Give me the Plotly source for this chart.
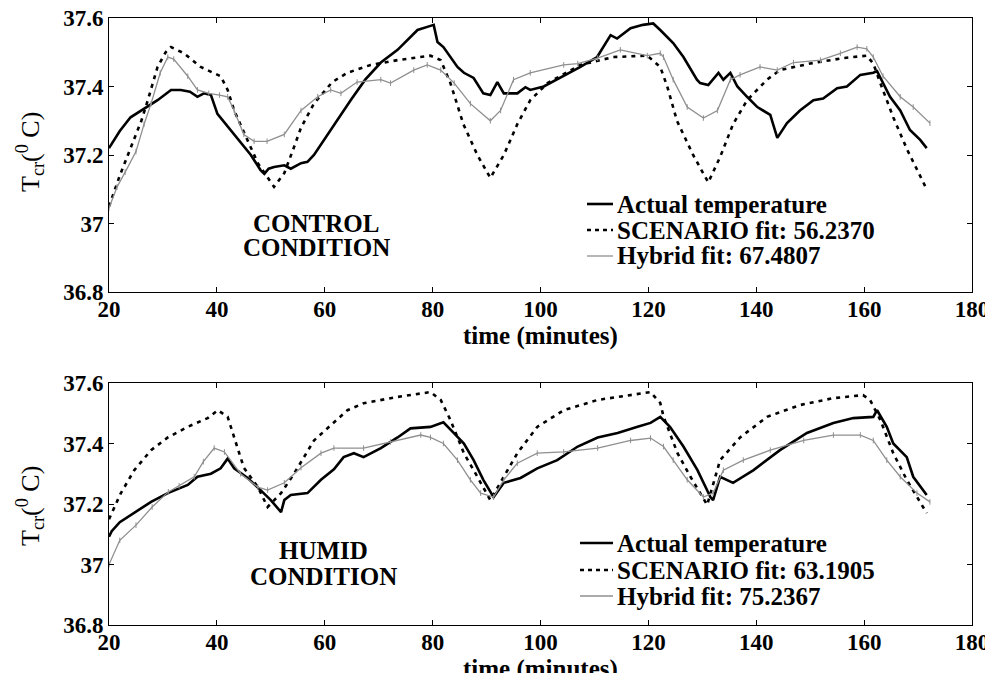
import plotly.graph_objects as go

# ---- CONTROL condition (top panel) ----
ctrl_actual_t = [20, 22, 24, 26, 27.5, 29, 31.5, 33.3, 35, 36.4, 37.6, 38.9, 40.1, 43.2, 46.3, 48.1,
                 48.8, 49.6, 50.6, 52.5, 53.7, 55.6, 56.8, 58, 60.5, 63, 64.8, 67.5, 70.4, 73.5, 77.2,
                 79.6, 80.2, 80.9, 82, 84.6, 85.8, 87.6, 89.4, 90.7, 92, 93.2, 95.7, 97.2, 98.1, 100.6,
                 104.3, 107.4, 110.5, 113, 114.2, 116.7, 119, 120.9, 122.2, 124.6, 126.5, 129, 129.6,
                 131.1, 133, 133.9, 135.2, 136.5, 138.3, 140.2, 142.6, 143.9, 145.7, 148.1, 150.6,
                 152.4, 155, 156.8, 159.3, 161.7, 162.4, 164.8, 166.7, 168.5, 170.4, 171.6]
ctrl_actual_v = [37.22, 37.27, 37.31, 37.33, 37.345, 37.36, 37.39, 37.39, 37.385, 37.37, 37.38, 37.375,
                 37.32, 37.26, 37.20, 37.156, 37.145, 37.16, 37.165, 37.17, 37.16, 37.176, 37.18, 37.20,
                 37.26, 37.32, 37.36, 37.42, 37.47, 37.507, 37.565, 37.577, 37.58, 37.53, 37.515,
                 37.457, 37.44, 37.425, 37.38, 37.375, 37.413, 37.38, 37.38, 37.398, 37.39, 37.40,
                 37.43, 37.457, 37.486, 37.55, 37.54, 37.57, 37.58, 37.584, 37.565, 37.527, 37.486,
                 37.42, 37.41, 37.404, 37.44, 37.42, 37.44, 37.40, 37.37, 37.34, 37.317, 37.25, 37.293,
                 37.33, 37.36, 37.365, 37.395, 37.40, 37.434, 37.44, 37.445, 37.37, 37.33, 37.273,
                 37.244, 37.22]

ctrl_scen_t = [20, 22, 24, 26, 27.2, 29, 30.5, 31.5, 33.9, 37, 40.7, 42, 43.2, 45.7, 47.6, 50.6, 52.5,
               54.3, 55.6, 58, 61.4, 64.2, 68.5, 73.5, 79.6, 81.5, 83.3, 85.7, 88.3, 90.7, 93.2, 95.7,
               98.1, 101.3, 107.4, 113.5, 119.8, 122.2, 123.5, 125.3, 128.3, 131.1, 133.3, 135.7,
               138.3, 142, 144.4, 150, 156.1, 160.5, 161.7, 163, 165.4, 168, 171.6]
ctrl_scen_v = [37.05, 37.14, 37.22, 37.30, 37.36, 37.457, 37.50, 37.515, 37.497, 37.457, 37.43, 37.39,
               37.33, 37.244, 37.176, 37.107, 37.147, 37.223, 37.28, 37.35, 37.413, 37.44, 37.463,
               37.477, 37.49, 37.477, 37.41, 37.29, 37.20, 37.133, 37.20, 37.29, 37.36, 37.41, 37.463,
               37.486, 37.49, 37.457, 37.40, 37.30, 37.20, 37.12, 37.194, 37.29, 37.36, 37.42, 37.448,
               37.467, 37.483, 37.49, 37.467, 37.41, 37.31, 37.215, 37.10]

ctrl_hyb_t = [20, 21.5, 23, 25, 26.5, 27.8, 29.5, 30.9, 32, 34.6, 36.4, 38.5, 40.5, 42, 43.2, 45, 46.9,
              49.3, 52.5, 55.6, 58.7, 61.1, 63, 66, 70.4, 72.2, 76.5, 79, 81.5, 84, 87, 90.7, 92.6, 95,
              98.1, 104.3, 106.9, 110.6, 114.8, 119.8, 122.2, 122.8, 124.6, 127.2, 130.2, 132.8, 135.2,
              137, 140.7, 143.9, 146.9, 151.9, 155.6, 158.7, 160.5, 161.7, 163.5, 166.7, 169.1, 172.2]
ctrl_hyb_v = [37.045, 37.107, 37.15, 37.21, 37.29, 37.35, 37.44, 37.486, 37.48, 37.43, 37.39, 37.38,
              37.375, 37.37, 37.33, 37.26, 37.24, 37.24, 37.26, 37.33, 37.37, 37.39, 37.38, 37.413,
              37.42, 37.41, 37.448, 37.463, 37.448, 37.41, 37.35, 37.30, 37.33, 37.42, 37.44, 37.463,
              37.467, 37.483, 37.507, 37.49, 37.497, 37.486, 37.42, 37.34, 37.308, 37.33, 37.42,
              37.434, 37.457, 37.448, 37.47, 37.477, 37.497, 37.515, 37.51, 37.486, 37.43, 37.37,
              37.34, 37.293]

# ---- HUMID condition (bottom panel) ----
hum_actual_t = [20, 20.5, 22, 24.7, 27.8, 30.9, 34.6, 36.4, 38.9, 40.7, 42, 43.2, 45.7, 48.1, 50, 51.9,
                52.5, 53.7, 56.8, 59.3, 61.7, 63.5, 65.4, 67.2, 70.4, 73.5, 75.9, 79.6, 82, 83.9, 85.8,
                87.6, 89.4, 91.3, 93.2, 96.3, 99.4, 103.1, 106.9, 110.6, 114.3, 118, 120.4, 122.2, 124,
                126.5, 129.1, 131.5, 132, 133.3, 135.7, 139.5, 144.4, 149.4, 154.3, 158, 161.7, 162.4,
                164.2, 165.4, 167.9, 169.1, 171.6]
hum_actual_v = [37.092, 37.11, 37.14, 37.17, 37.207, 37.236, 37.263, 37.29, 37.30, 37.318, 37.35,
                37.318, 37.286, 37.246, 37.213, 37.173, 37.213, 37.23, 37.236, 37.28, 37.315, 37.355,
                37.368, 37.355, 37.385, 37.42, 37.45, 37.455, 37.47, 37.435, 37.40, 37.345, 37.28,
                37.223, 37.27, 37.286, 37.318, 37.345, 37.39, 37.42, 37.435, 37.455, 37.468, 37.488,
                37.455, 37.39, 37.312, 37.223, 37.213, 37.29, 37.27, 37.312, 37.378, 37.435, 37.468,
                37.484, 37.488, 37.51, 37.455, 37.40, 37.355, 37.29, 37.23]

hum_scen_t = [20, 22.2, 24.7, 27.8, 30.9, 34.6, 38.3, 40.2, 42, 43.2, 45, 47.6, 49.4, 51.9, 54.3, 58,
              61.4, 64.2, 67.2, 73.5, 79.6, 81.5, 83.3, 85.8, 88.3, 90.7, 93.2, 95.7, 99.4, 104.3,
              110.6, 116.7, 120.4, 122.2, 122.8, 125.4, 127.8, 130.9, 133.3, 137, 142, 148.1, 154.3,
              159.8, 161.1, 163, 165.4, 167.9, 171.6]
hum_scen_v = [37.15, 37.236, 37.312, 37.378, 37.42, 37.455, 37.484, 37.51, 37.488, 37.42, 37.32,
              37.256, 37.19, 37.236, 37.30, 37.41, 37.465, 37.51, 37.533, 37.554, 37.57, 37.544,
              37.478, 37.368, 37.29, 37.213, 37.29, 37.368, 37.455, 37.51, 37.544, 37.56, 37.57,
              37.534, 37.49, 37.368, 37.29, 37.197, 37.345, 37.42, 37.488, 37.527, 37.55, 37.56,
              37.544, 37.478, 37.368, 37.28, 37.17]

hum_hyb_t = [20, 22, 25, 28, 31, 33, 35.8, 37.5, 39.5, 41.4, 44.4, 47.6, 49.4, 52.5, 55.6, 59.3, 61.7,
             67.2, 72.2, 77.8, 79.6, 82, 84.6, 87, 88.9, 91.3, 93.2, 95.7, 99.4, 104.3, 110.6, 116.7,
             120.4, 122.8, 124.6, 127.2, 130.2, 132, 133.9, 137.6, 142.6, 148.8, 154.3, 159.3, 161.7,
             164.2, 166.7, 169.8, 172.2]
hum_hyb_v = [37.0, 37.08, 37.13, 37.19, 37.24, 37.26, 37.29, 37.34, 37.385, 37.372, 37.30, 37.256,
             37.246, 37.27, 37.32, 37.368, 37.385, 37.385, 37.405, 37.428, 37.42, 37.40, 37.345,
             37.28, 37.236, 37.223, 37.28, 37.335, 37.368, 37.372, 37.385, 37.41, 37.418, 37.39,
             37.345, 37.28, 37.223, 37.236, 37.312, 37.345, 37.378, 37.41, 37.428, 37.428, 37.41,
             37.345, 37.29, 37.236, 37.207]

ctrl_labels = ["Actual temperature", "SCENARIO fit: 56.2370", "Hybrid fit: 67.4807"]
hum_labels = ["Actual temperature", "SCENARIO fit: 63.1905", "Hybrid fit: 75.2367"]

x_ticks = [20, 40, 60, 80, 100, 120, 140, 160, 180]
y_ticks = [36.8, 37.0, 37.2, 37.4, 37.6]
y_ticktext = ["36.8", "37", "37.2", "37.4", "37.6"]

SERIF = "Liberation Serif, Times New Roman, DejaVu Serif, serif"
GRAY = "#8f8f8f"

# target plot area in window pixels: x 109..972, y 18..625
L, R, T, B = 109, 972, 18, 625
PAGE_PAD = 8  # default body margin of the html page
W, H = 993 - 2 * PAGE_PAD, 681 - 2 * PAGE_PAD


def px_x(p):
    return (p - L) / (R - L)


def px_y(p):
    return (B - p) / (B - T)


fig = go.Figure()


def add_panel(xa, ya, actual, scen, hyb):
    fig.add_trace(go.Scatter(x=actual[0], y=actual[1], mode="lines", xaxis=xa, yaxis=ya,
                             line=dict(color="black", width=2.6), showlegend=False))
    fig.add_trace(go.Scatter(x=scen[0], y=scen[1], mode="lines", xaxis=xa, yaxis=ya,
                             line=dict(color="black", width=2.6, dash="4px,5px"), showlegend=False))
    fig.add_trace(go.Scatter(x=hyb[0], y=hyb[1], mode="lines+markers", xaxis=xa, yaxis=ya,
                             line=dict(color=GRAY, width=1.3),
                             marker=dict(symbol="line-ns", size=4, line=dict(color=GRAY, width=1)),
                             showlegend=False))


add_panel("x", "y", (ctrl_actual_t, ctrl_actual_v), (ctrl_scen_t, ctrl_scen_v), (ctrl_hyb_t, ctrl_hyb_v))
add_panel("x2", "y2", (hum_actual_t, hum_actual_v), (hum_scen_t, hum_scen_v), (hum_hyb_t, hum_hyb_v))

tickfont = dict(family=SERIF, size=23, color="black", weight="bold")
xcommon = dict(range=[20, 180], tickvals=x_ticks, showline=True, mirror="ticks", linecolor="black",
               linewidth=1, ticks="inside", ticklen=5, tickcolor="black", showgrid=False,
               zeroline=False, tickfont=tickfont, ticklabelstandoff=-4, automargin=False,
               ticklabeloverflow="allow")
ycommon = dict(range=[36.8, 37.6], tickvals=y_ticks, ticktext=y_ticktext, showline=True,
               mirror="ticks", linecolor="black", linewidth=1, ticks="inside", ticklen=5,
               tickcolor="black", showgrid=False, zeroline=False, tickfont=tickfont,
               automargin=False, ticklabeloverflow="allow")

top_dom = [px_y(292), 1]
bot_dom = [0, px_y(383)]

fig.update_layout(
    width=W, height=H,
    margin=dict(l=L - PAGE_PAD, r=W - (R - PAGE_PAD), t=T - PAGE_PAD, b=H - (B - PAGE_PAD)),
    paper_bgcolor="white", plot_bgcolor="white",
    xaxis=dict(xcommon, anchor="y", domain=[0, 1]),
    yaxis=dict(ycommon, anchor="x", domain=top_dom),
    xaxis2=dict(xcommon, anchor="y2", domain=[0, 1]),
    yaxis2=dict(ycommon, anchor="x2", domain=bot_dom),
    showlegend=False,
)

ann = []
shapes = []
txt_font = dict(family=SERIF, size=25, color="black", weight="bold")

# axis titles
for yp in (336, 669):
    ann.append(dict(text="time (minutes)", x=0.5, y=px_y(yp), xref="paper", yref="paper",
                    showarrow=False, xanchor="center", yanchor="middle",
                    font=dict(family=SERIF, size=25, color="black", weight="bold")))
for yp in (152, 506):
    ann.append(dict(text="T<sub>cr</sub>(<sup>0</sup> C)", x=px_x(30), y=px_y(yp), xref="paper",
                    yref="paper", showarrow=False, textangle=-90, xanchor="center",
                    yanchor="middle", font=dict(family=SERIF, size=26, color="black")))

# condition labels
for text, xp, yp in [("CONTROL", 316, 223), ("CONDITION", 316, 248),
                     ("HUMID", 323, 550), ("CONDITION", 323, 576)]:
    ann.append(dict(text=text, x=px_x(xp), y=px_y(yp), xref="paper", yref="paper",
                    showarrow=False, xanchor="center", yanchor="middle", font=txt_font))

# legends
styles = [dict(color="black", width=2.6), dict(color="black", width=2.6, dash="4px,4px"),
          dict(color=GRAY, width=1.3)]
for labels, rows, kx0 in [(ctrl_labels, (204, 230, 256), 587), (hum_labels, (543, 570, 596), 580)]:
    for lab, yp, st in zip(labels, rows, styles):
        ann.append(dict(text=lab, x=px_x(615), y=px_y(yp), xref="paper", yref="paper",
                        showarrow=False, xanchor="left", yanchor="middle", font=txt_font))
        shapes.append(dict(type="line", xref="paper", yref="paper", x0=px_x(kx0), x1=px_x(613),
                           y0=px_y(yp), y1=px_y(yp), line=st))

fig.update_layout(annotations=ann, shapes=shapes)

fig.write_html("out.html")
